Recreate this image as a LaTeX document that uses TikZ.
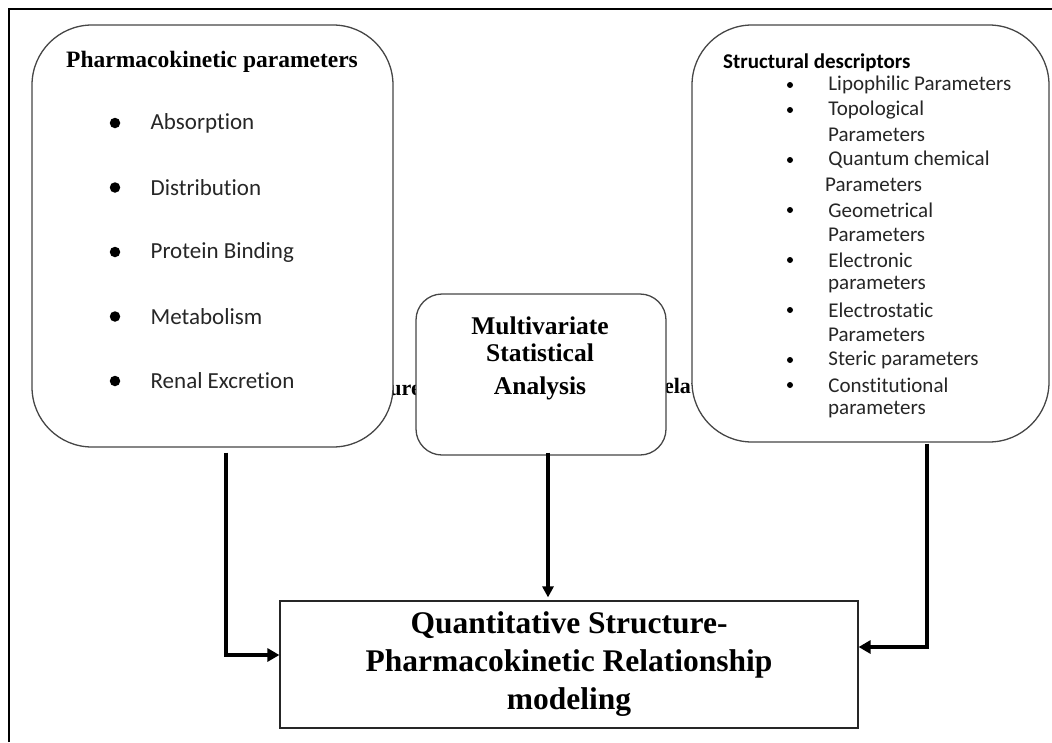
\documentclass[tikz,border=0pt]{standalone}
\usepackage{fontspec}
\setmainfont{Liberation Serif}
\newfontfamily\calibri[Ligatures={NoCommon,NoContextual}]{Carlito}
\usetikzlibrary{arrows.meta, positioning}
\definecolor{edge}{RGB}{70, 70, 70}
\tikzset{
    roundbox/.style={draw=edge, line width=1.3pt, fill=white, rounded corners=60pt},
    midbox/.style={draw=edge, line width=1.3pt, fill=white, rounded corners=26pt},
    mainbox/.style={draw=black!85, line width=1.2pt, fill=white, align=center, font=\bfseries\fontsize{31.5}{38}\selectfont},
    hidden/.style={inner sep=0pt, font=\bfseries\fontsize{22}{26}\selectfont},
    bigdot/.style={circle, fill=black, inner sep=0pt, minimum size=10.5pt},
    smalldot/.style={circle, fill=black, inner sep=0pt, minimum size=6pt},
    item/.style={anchor=west, inner sep=0pt, font=\calibri\fontsize{23}{27}\selectfont, text=black!85},
    subitem/.style={anchor=west, inner sep=0pt, font=\calibri\fontsize{21}{25}\selectfont, text=black!85},
    arr/.style={-{Triangle[length=12pt,width=13pt]}, line width=4.5pt},
    thinarr/.style={-{Triangle[length=11pt,width=11pt]}, line width=3.2pt}
}
\begin{document}
\begin{tikzpicture}[x=1pt, y=-1pt]
    \useasboundingbox (0,0) rectangle (1052,742);
    \draw[line width=1.2pt] (9,742) -- (9,9) -- (1052,9);

    % title text partly hidden behind the boxes
    \node[hidden, anchor=east] (struct) at (421,388) {Structure};
    \node[hidden, anchor=west] (relat) at (648,388) {Relationship};

    \node[roundbox, minimum width=361pt, minimum height=422pt] (pkbox) at (212.5,236) {};
    \node[roundbox, minimum width=357pt, minimum height=417pt] (sdbox) at (870.5,233.5) {};
    \node[midbox, minimum width=250pt, minimum height=161pt] (msabox) at (541,374.5) {};
    \node[mainbox, minimum width=578pt, minimum height=127pt] (qspr) at (569,664.5) {Quantitative Structure-\\Pharmacokinetic Relationship\\modeling};

    % pharmacokinetic parameters
    \node[font=\bfseries\fontsize{23.5}{27}\selectfont] (pktitle) at (212,62) {Pharmacokinetic parameters};
    \node[bigdot] (pk1) at (115,123) {};
    \node[item, right=30pt of pk1] {Absorption};
    \node[bigdot] (pk2) at (115,187.5) {};
    \node[item, right=30pt of pk2] {Distribution};
    \node[bigdot] (pk3) at (115,252) {};
    \node[item, right=30pt of pk3] {Protein Binding};
    \node[bigdot] (pk4) at (115,316.5) {};
    \node[item, right=30pt of pk4] {Metabolism};
    \node[bigdot] (pk5) at (115,381) {};
    \node[item, right=30pt of pk5] {Renal Excretion};

    % structural descriptors
    \node[anchor=west, inner sep=0pt, font=\calibri\bfseries\fontsize{21}{25}\selectfont] (sdtitle) at (723,63) {Structural descriptors};
    \node[smalldot] (sd1) at (790,85) {};
    \node[subitem, right=35pt of sd1] {Lipophilic Parameters};
    \node[smalldot] (sd2) at (790,110) {};
    \node[subitem, right=35pt of sd2] {Topological};
    \node[subitem] at (828,135) {Parameters};
    \node[smalldot] (sd3) at (790,160) {};
    \node[subitem, right=35pt of sd3] {Quantum chemical};
    \node[subitem] at (825,185) {Parameters};
    \node[smalldot] (sd4) at (790,210) {};
    \node[subitem, right=35pt of sd4] {Geometrical};
    \node[subitem] at (828,235) {Parameters};
    \node[smalldot] (sd5) at (790,260) {};
    \node[subitem, right=35pt of sd5] {Electronic};
    \node[subitem] at (828,285) {parameters};
    \node[smalldot] (sd6) at (790,310) {};
    \node[subitem, right=35pt of sd6] {Electrostatic};
    \node[subitem] at (828,335) {Parameters};
    \node[smalldot] (sd7) at (790,360) {};
    \node[subitem, right=35pt of sd7] {Steric parameters};
    \node[smalldot] (sd8) at (790,385) {};
    \node[subitem, right=35pt of sd8] {Constitutional};
    \node[subitem] at (828,410) {parameters};

    % multivariate analysis
    \node[align=center, font=\bfseries\fontsize{25.5}{27}\selectfont] (msatext) at (540,358) {Multivariate\\Statistical\\[6pt]Analysis};

    \draw[arr] ([xshift=13.5pt,yshift=-5pt]pkbox.south) |- ([yshift=9.5pt]qspr.west);
    \draw[arr] ([xshift=56.5pt,yshift=-1pt]sdbox.south) |- ([yshift=17.5pt]qspr.east);
    \draw[thinarr] ([xshift=7pt,yshift=3pt]msabox.south) -- ([xshift=7pt,yshift=3pt]msabox.south |- qspr.north);
\end{tikzpicture}
\end{document}
